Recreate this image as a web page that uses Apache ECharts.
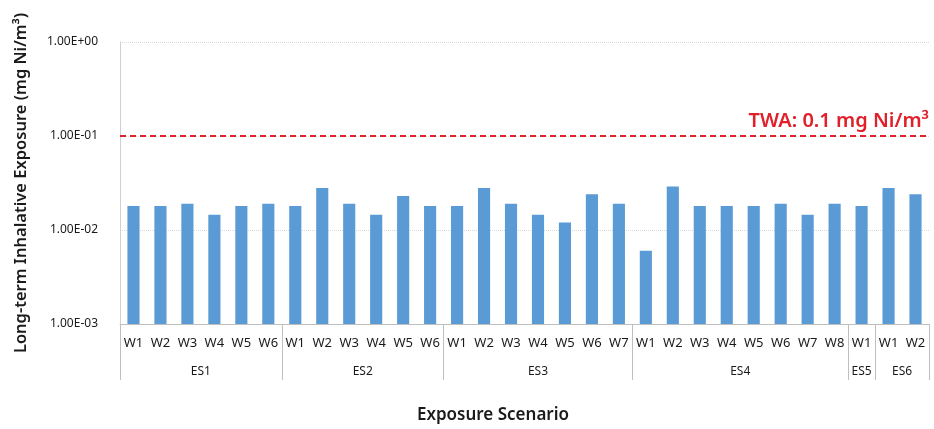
<!DOCTYPE html>
<html><head><meta charset="utf-8">
<script src="https://cdn.jsdelivr.net/npm/echarts@6/dist/echarts.min.js"></script>
<style>html,body{margin:0;padding:0;background:#fff}#c{width:934px;height:429px}</style>
</head><body><div id="c"></div>
<script>
const groups = ['ES1','ES2','ES3','ES4','ES5','ES6'];
const workers = [
  ['W1','W2','W3','W4','W5','W6'],
  ['W1','W2','W3','W4','W5','W6'],
  ['W1','W2','W3','W4','W5','W6','W7'],
  ['W1','W2','W3','W4','W5','W6','W7','W8'],
  ['W1'],
  ['W1','W2']
];
const valuesES1 = [0.018,0.018,0.019,0.0145,0.018,0.019];
const valuesES2 = [0.018,0.028,0.019,0.0145,0.023,0.018];
const valuesES3 = [0.018,0.028,0.019,0.0145,0.012,0.024,0.019];
const valuesES4 = [0.006,0.029,0.018,0.018,0.018,0.019,0.0145,0.019];
const valuesES5 = [0.018];
const valuesES6 = [0.028,0.024];
const twaValue = 0.1;
const twaLabel = 'TWA: 0.1 mg Ni/m³';
const yTicks = [0.001, 0.01, 0.1, 1];
const yTitle = 'Long-term Inhalative Exposure (mg Ni/m³)';
const xTitle = 'Exposure Scenario';

const categories = [].concat(...workers);
const values = [].concat(valuesES1,valuesES2,valuesES3,valuesES4,valuesES5,valuesES6);
const boundaries = [0];
const centers = [];
workers.forEach(w => { const s = boundaries[boundaries.length-1]; centers.push(s + w.length/2); boundaries.push(s + w.length); });
const centerName = {};
centers.forEach((c,i)=>{ centerName[String(c)] = groups[i]; });
const yMin = yTicks[0];

function fmtE(v){
  const e = Math.round(Math.log10(v));
  const m = v / Math.pow(10,e);
  const sign = e < 0 ? '-' : '+';
  const a = Math.abs(e);
  return m.toFixed(2) + 'E' + sign + (a < 10 ? '0' : '') + a;
}

const font = '"Noto Sans", "Open Sans", sans-serif';
const chart = echarts.init(document.getElementById('c'));
chart.setOption({
  animation: false,
  textStyle: { fontFamily: font },
  title: {
    text: xTitle, left: 488, top: 402, textAlign: 'center',
    textStyle: { fontSize: 17, fontWeight: 600, color: '#1a1a1a', fontFamily: font }
  },
  grid: { left: 120, right: 5, top: 42, bottom: 105, containLabel: false },
  xAxis: [
    {
      type: 'category', data: categories, position: 'bottom',
      axisLine: { show: true, lineStyle: { color: '#bfbfbf', width: 1 } },
      axisTick: { show: false },
      axisLabel: { interval: 0, margin: 13, fontSize: 13, color: '#1a1a1a' },
      splitLine: { show: false }
    },
    {
      type: 'value', min: 0, max: categories.length, position: 'bottom', offset: 0,
      axisLine: { show: false },
      axisTick: { show: true, customValues: boundaries, length: 56, inside: false, lineStyle: { color: '#bfbfbf', width: 1 } },
      axisLabel: { show: true, customValues: centers, margin: 42, fontSize: 12, color: '#1a1a1a',
        formatter: v => centerName[String(v)] || '' },
      splitLine: { show: false }
    }
  ],
  yAxis: {
    type: 'log', logBase: 10, min: yTicks[0], max: yTicks[yTicks.length-1],
    name: yTitle, nameLocation: 'middle', nameGap: 90, nameRotate: 90,
    nameTextStyle: { fontSize: 16.5, fontWeight: 600, color: '#1a1a1a', fontFamily: font },
    axisLine: { show: true, lineStyle: { color: '#d0d0d0' } },
    axisTick: { show: false },
    axisLabel: { formatter: fmtE, fontSize: 12, color: '#1a1a1a', margin: 22 },
    splitLine: { show: true, lineStyle: { color: '#d9d9d9', type: 'dotted', width: 1 } }
  },
  series: [{
    type: 'custom', xAxisIndex: 0, yAxisIndex: 0,
    data: values.map((v, i) => [i, v]),
    encode: { x: 0, y: 1 },
    renderItem: function (params, api) {
      const x = api.value(0), y = api.value(1);
      const top = api.coord([x, y]);
      const bottom = api.coord([x, yMin]);
      const w = api.size([1, y])[0] * 0.45;
      return {
        type: 'rect',
        shape: { x: top[0] - w / 2, y: top[1], width: w, height: bottom[1] - top[1] },
        style: { fill: '#5b9bd5' }
      };
    },
    markLine: {
      symbol: 'none', silent: true,
      data: [{ yAxis: twaValue }],
      lineStyle: { color: '#e0202a', type: [6,4], width: 2 },
      label: { show: true, position: 'insideEndTop', formatter: twaLabel, fontSize: 20, fontWeight: 600, color: '#e0202a', distance: [0, 5] }
    }
  }]
});
</script></body></html>
